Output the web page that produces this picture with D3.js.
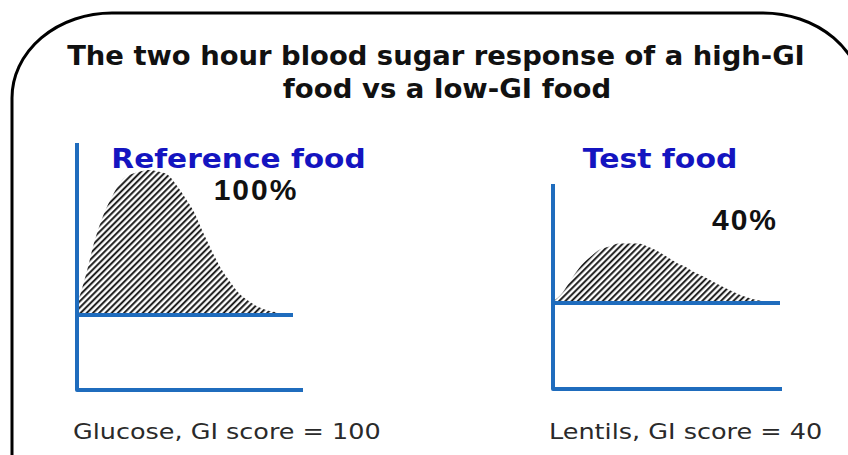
<!DOCTYPE html>
<html>
<head>
<meta charset="utf-8">
<script src="https://cdn.jsdelivr.net/npm/d3@7"></script>
<style>
  body { margin: 0; background: #fff; }
</style>
</head>
<body>
<script>
// time after eating, minutes
let minutes = [0, 5, 10, 15, 20, 25, 30, 35, 40, 45, 50, 55, 60, 65, 70, 75, 80, 85, 90, 95, 100, 105, 110, 115];
// blood sugar rise, % of the reference peak
let glucoseRise = [7, 28, 52, 70, 83, 93, 97, 99, 100, 99, 97, 90, 81, 71, 57, 44, 32, 23, 15, 10, 6, 3.5, 2, 0];
let lentilRise  = [1, 7, 17, 26, 32, 37, 39, 41, 41, 41, 39, 36, 32, 28, 25, 21, 18, 14.5, 11, 8, 5, 3, 1.5, 0];

let titleLines = ["The two hour blood sugar response of a high-GI", "food vs a low-GI food"];
let panelNames = ["Reference food", "Test food"];
let percentLabels = ["100%", "40%"];
let captions = ["Glucose, GI score = 100", "Lentils, GI score = 40"];

let width = 848;
let height = 455;
let axisBlue = "#1f6cbd";

let svg = d3.select("body").append("svg")
  .attr("width", width).attr("height", height);

// text drawn at x,y and stretched sideways (the source font is wider)
function label(parent, x, y, sx, txt) {
  return parent.append("text")
    .attr("transform", "translate(" + x + "," + y + ") scale(" + sx + ",1)")
    .text(txt);
}

// hatch pattern for the area under the curve
let defs = svg.append("defs");
defs.append("pattern")
  .attr("id", "hatch")
  .attr("patternUnits", "userSpaceOnUse")
  .attr("width", 4.4).attr("height", 4.4)
  .attr("patternTransform", "rotate(45)")
  .append("line")
    .attr("x1", 1.1).attr("y1", 0).attr("x2", 1.1).attr("y2", 4.4)
    .style("stroke", "#111").style("stroke-width", 1.9);

// rounded frame, runs off the right and bottom of the picture
svg.append("rect")
  .attr("x", 12).attr("y", 13)
  .attr("width", 851).attr("height", 560)
  .attr("rx", 100).attr("ry", 85)
  .style("fill", "#fff")
  .style("stroke", "#000")
  .style("stroke-width", 3);

// title
label(svg, 436, 65, 1.015, titleLines[0])
  .attr("text-anchor", "middle")
  .style("font-family", "DejaVu Sans").style("font-weight", "bold").style("font-size", "27px")
  .style("fill", "#111");
label(svg, 447, 98, 1.02, titleLines[1])
  .attr("text-anchor", "middle")
  .style("font-family", "DejaVu Sans").style("font-weight", "bold").style("font-size", "27px")
  .style("fill", "#111");

let panels = [
  {data: glucoseRise, left: 77, right: 293, axisRight: 303, top: 143, base: 315, bottom: 390,
   nameX: 238.5, nameSx: 1.097, pctX: 256, pctY: 200, capX: 73, capSx: 1.158},
  {data: lentilRise, left: 553, right: 780, axisRight: 782, top: 184, base: 303, bottom: 389,
   nameX: 660, nameSx: 1.107, pctX: 745, pctY: 230, capX: 549, capSx: 1.16}
];

panels.forEach(function(p, i) {
  let g = svg.append("g");

  let xScale = d3.scaleLinear().domain([0, 120]).range([p.left, p.right]);
  let yScale = d3.scaleLinear().domain([0, 100]).range([p.base, p.base - 145]);

  let area = d3.area()
    .x(function(d, j) { return xScale(minutes[j]); })
    .y0(yScale(0))
    .y1(function(d) { return yScale(d); })
    .curve(d3.curveMonotoneX);

  g.append("path")
    .datum(p.data)
    .attr("d", area)
    .style("fill", "url(#hatch)");

  // baseline level
  g.append("line")
    .attr("x1", xScale(0)).attr("x2", xScale(120))
    .attr("y1", yScale(0)).attr("y2", yScale(0))
    .style("stroke", axisBlue).style("stroke-width", 4);

  // axes: vertical and bottom
  g.append("path")
    .attr("d", "M" + p.left + "," + p.top + "V" + p.bottom + "H" + p.axisRight)
    .style("fill", "none")
    .style("stroke", axisBlue).style("stroke-width", 4)
    .style("stroke-linejoin", "round");

  label(g, p.nameX, 168, p.nameSx, panelNames[i])
    .attr("text-anchor", "middle")
    .style("font-family", "DejaVu Sans").style("font-weight", "bold").style("font-size", "27px")
    .style("fill", "#1414c0");

  label(g, p.pctX, p.pctY, 1, percentLabels[i])
    .attr("text-anchor", "middle")
    .style("font-family", "Liberation Sans").style("font-weight", "bold").style("font-size", "30px")
    .style("letter-spacing", "2px")
    .style("fill", "#111");

  label(g, p.capX, 439, p.capSx, captions[i])
    .style("font-family", "DejaVu Sans").style("font-size", "22px")
    .style("fill", "#2a2a2a");
});
</script>
</body>
</html>
